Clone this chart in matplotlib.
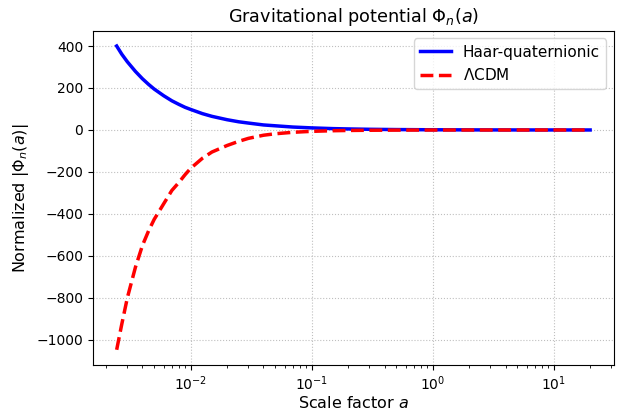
import numpy as np
import matplotlib.pyplot as plt

# values
scale_factor = [0.00245, 0.0027, 0.003, 0.0035, 0.004, 0.0045, 0.005, 0.006, 0.007,
                0.008, 0.009, 0.01, 0.0125, 0.015, 0.02, 0.025, 0.03, 0.04, 0.05,
                0.07, 0.1, 0.15, 0.2, 0.3, 0.5, 1.0, 2.0, 5.0, 10.0, 20.0]
phi_haar = [400, 361, 325, 279, 244, 217, 195, 163, 139,
            122, 108, 98, 78, 65, 49, 39, 33, 24, 20,
            14, 10, 6.5, 5, 3.3, 2, 1, 0.5, 0.2, 0.1, 0.05]
phi_lcdm = [-1047, -925, -800, -654, -550, -480, -426, -351, -288,
            -250, -213, -183, -135, -105, -74, -54, -40, -25, -18,
            -11, -6.5, -3.5, -2.3, -1.3, -0.6, -0.2, -0.08, -0.02, -0.01, -0.004]

fig = plt.figure(figsize=(6.2, 4.11), dpi=100)
ax = fig.add_axes([0.150, 0.112, 0.840, 0.813])

ax.plot(scale_factor, phi_haar, color='blue', lw=2.5, label='Haar-quaternionic')
ax.plot(scale_factor, phi_lcdm, color='red', lw=2.5, ls='--', label=r'$\Lambda$CDM')
ax.set_xscale('log')

ax.set_title(r'Gravitational potential $\Phi_n(a)$', fontsize=12.7)
ax.set_xlabel(r'Scale factor $a$', fontsize=11.5, labelpad=1)
ax.set_ylabel(r'Normalized $|\Phi_n(a)|$', fontsize=11.5)
ax.grid(True, ls=':', color='#b0b0b0', alpha=0.8)
ax.legend(loc='upper right', fontsize=11)

fig.savefig('out.png', dpi=100)
